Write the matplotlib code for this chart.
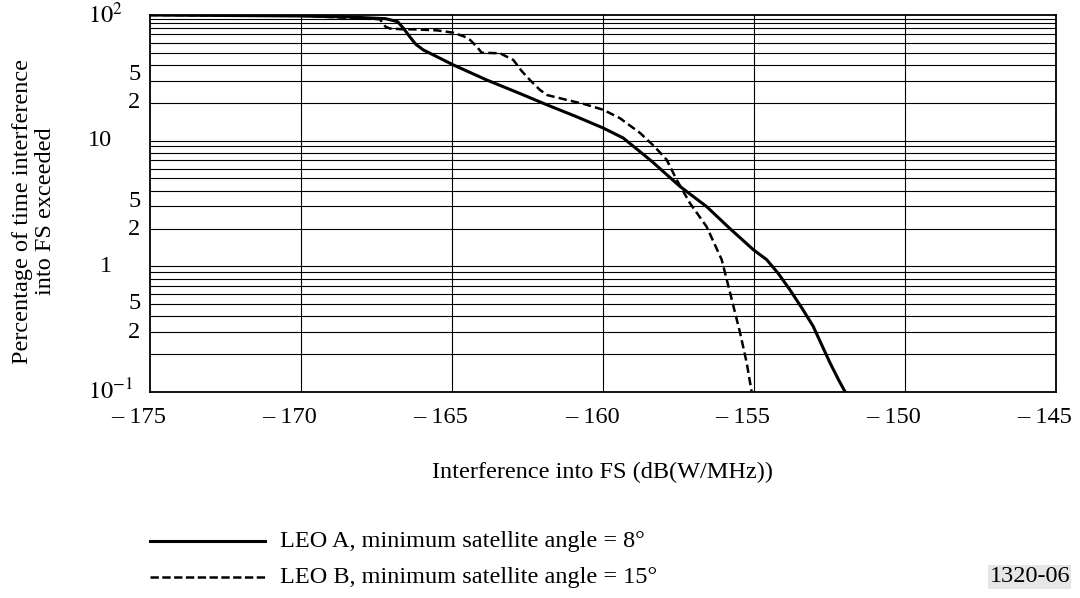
import matplotlib

matplotlib.use("Agg")
import matplotlib.pyplot as plt
import matplotlib.transforms as mtransforms
from matplotlib.lines import Line2D

plt.rcParams["font.family"] = ["Liberation Serif", "DejaVu Serif"]
plt.rcParams["mathtext.fontset"] = "stix"
plt.rcParams["lines.scale_dashes"] = False

# LEO A, minimum satellite angle = 8 deg
leo_a_x = [-175.0, -170.0, -168.4, -167.2, -166.8, -166.6, -166.4, -166.2, -165.95,
           -165.4, -164.96, -163.85, -162.8, -161.86, -160.9, -159.99, -159.33,
           -158.4, -157.45, -156.57, -155.8, -155.02, -154.58, -154.2, -153.81,
           -153.4, -153.04, -152.75, -152.48, -152.2, -151.99]
leo_a_y = [100, 98.2, 96.4, 93.5, 88.5, 78.0, 67.2, 58.5, 52.7,
           45.3, 40.1, 30.4, 24.0, 19.3, 15.6, 12.6, 10.5,
           6.9, 4.32, 2.99, 2.0, 1.355, 1.13, 0.88, 0.65,
           0.46, 0.333, 0.235, 0.170, 0.125, 0.101]

# LEO B, minimum satellite angle = 15 deg
leo_b_x = [-175.0, -170.0, -167.38, -167.3, -167.2, -167.05, -166.6, -166.28,
           -165.5, -164.96, -164.6, -164.40, -164.15, -164.02, -163.41, -162.97,
           -162.7, -162.42, -162.1, -161.86, -161.20, -160.6, -159.99, -159.44,
           -158.77, -158.3, -157.89, -157.56, -157.12, -156.57, -156.07, -155.79,
           -155.46, -155.24, -155.08]
leo_b_y = [100, 98.7, 92.4, 86.0, 80.7, 78.0, 76.9, 76.9,
           75.5, 72.3, 67.5, 63.3, 55.0, 50.1, 49.6, 43.9,
           36.0, 30.4, 25.5, 23.1, 21.1, 19.5, 17.6, 15.1,
           11.5, 9.0, 7.04, 4.88, 3.18, 2.07, 1.13, 0.613,
           0.295, 0.170, 0.101]

# horizontal rulings as drawn in the original (top decade is irregular)
h_grid = [93, 86, 79, 70, 60, 50, 40, 30, 20, 10,
          9, 8, 7, 6, 5, 4, 3, 2, 1,
          0.9, 0.8, 0.7, 0.6, 0.5, 0.4, 0.3, 0.2]
v_grid = [-170, -165, -160, -155, -150]

# y labels sit at odd places in the original, so keep their x offsets too
y_label_pos = [100, 33.4, 20, 10, 3.3, 1.97, 1, 0.505, 0.30, 0.1]
y_label_text = ["$10^2$", "5", "2", "10", "5", "2", "1", "5", "2", "$10^{-1}$"]
y_label_left = [88, 128, 128, 88, 128, 128, 100, 128, 128, 88]

x_ticks = [-175, -170, -165, -160, -155, -150, -145]
x_tick_labels = ["\u2013 175", "\u2013 170", "\u2013 165", "\u2013 160",
                 "\u2013 155", "\u2013 150", "\u2013 145"]

FS = 17.5

fig = plt.figure(figsize=(10.8, 5.98), dpi=100)
ax = fig.add_axes([150 / 1080, 1 - 392 / 598, 906 / 1080, 377 / 598])

for v in h_grid:
    ax.axhline(v, color="black", lw=0.8, zorder=1)
for v in v_grid:
    ax.axvline(v, color="black", lw=0.8, zorder=1)

ax.plot(leo_a_x, leo_a_y, color="black", lw=2.2, zorder=3)
ax.plot(leo_b_x, leo_b_y, color="black", lw=1.8, dashes=(6, 3), zorder=3)

ax.set_yscale("log")
ax.set_xlim(-175, -145)
ax.set_ylim(0.1, 100)
ax.minorticks_off()
ax.set_yticks([])
ax.set_xticks(x_ticks)
ax.set_xticklabels(x_tick_labels)
ax.tick_params(length=0, labelsize=FS, pad=11)
shift = mtransforms.ScaledTranslation(-11 / 100, 0, fig.dpi_scale_trans)
for lab in ax.get_xticklabels():
    lab.set_transform(lab.get_transform() + shift)
for s in ax.spines.values():
    s.set_linewidth(1.3)

ytrans = mtransforms.blended_transform_factory(fig.transFigure, ax.transData)
for pos, txt, left in zip(y_label_pos, y_label_text, y_label_left):
    ax.text(left / 1080, pos, txt, transform=ytrans, fontsize=FS,
            ha="left", va="center")

ax.set_xlabel("Interference into FS (dB(W/MHz))", fontsize=FS, labelpad=24)
fig.text(34 / 1080, 1 - 211 / 598,
         "Percentage of time interference\ninto FS exceeded",
         rotation=90, ha="center", va="center", fontsize=FS,
         multialignment="center", linespacing=1.17)

# legend
fig.add_artist(Line2D([150 / 1080, 265 / 1080], [1 - 541 / 598] * 2,
                      color="black", lw=2.2))
fig.add_artist(Line2D([150 / 1080, 265 / 1080], [1 - 577 / 598] * 2,
                      color="black", lw=1.8, dashes=(6, 2.5)))
fig.text(280 / 1080, 1 - 541 / 598, "LEO A, minimum satellite angle = 8\u00b0",
         fontsize=FS, va="center")
fig.text(280 / 1080, 1 - 577 / 598, "LEO B, minimum satellite angle = 15\u00b0",
         fontsize=FS, va="center")
fig.text(1070 / 1080, 1 - 577 / 598, "1320-06", fontsize=FS, va="center", ha="right",
         bbox=dict(facecolor="#e6e6e6", edgecolor="none", pad=1))

fig.savefig("out.png", dpi=100)
